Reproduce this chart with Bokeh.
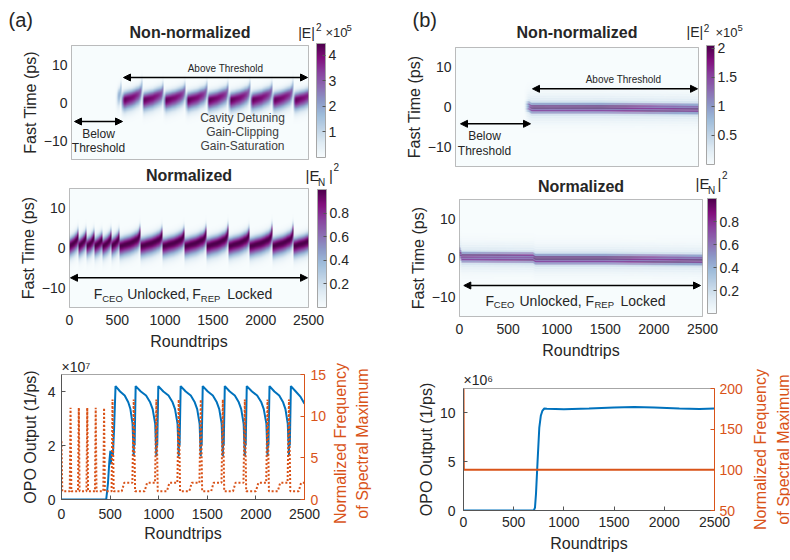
import numpy as np
from bokeh.plotting import figure
from bokeh.models import (Range1d, LinearAxis, Label, Arrow, NormalHead, ColorBar,
                          LinearColorMapper, FixedTicker)
from bokeh.layouts import column, row
from bokeh.embed import file_html
from bokeh.resources import INLINE

# ---------------------------------------------------------------- data
rt_ticks = [0, 500, 1000, 1500, 2000, 2500]
ps_ticks = [-10, 0, 10]

# (a) roundtrips at which the pulse jumps back (last edge nominal)
a_seg_edges = [0, 93, 178, 265, 352, 438, 525, 743, 976, 1206, 1433, 1660,
               1886, 2120, 2340, 2565]
# pulse centre (ps) versus fraction of a segment
seg_frac = [0.0, 0.5, 0.85, 0.95, 1.0]
seg_center_ps = [0.5, 1.3, 2.2, 3.0, 4.5]

# (a) OPO output (x1e7 1/ps)
a_out_rt = [0, 460, 478, 492, 503, 508, 514, 528, 541,
            556, 603, 650, 687, 709, 731, 737, 743, 748, 752,
            763, 816, 870, 912, 938, 964, 970, 976, 981, 985,
            996, 1048, 1101, 1143, 1168, 1194, 1200, 1206, 1211, 1215,
            1226, 1278, 1330, 1371, 1396, 1421, 1427, 1433, 1438, 1442,
            1453, 1505, 1557, 1598, 1623, 1648, 1654, 1660, 1665, 1669,
            1680, 1731, 1783, 1824, 1849, 1874, 1880, 1886, 1891, 1895,
            1906, 1960, 2013, 2056, 2081, 2108, 2114, 2120, 2125, 2129,
            2140, 2190, 2240, 2280, 2304, 2328, 2334, 2340, 2345, 2349,
            2360, 2410, 2460, 2500]
a_out = [0, 0, 0.6, 1.4, 1.8, 1.3, 1.8, 1.6, 2.6,
         4.2, 4.0, 3.85, 3.6, 3.35, 2.8, 2.2, 1.6, 2.6, 2.0,
         4.2, 4.0, 3.85, 3.6, 3.35, 2.8, 2.2, 1.6, 2.6, 2.0,
         4.2, 4.0, 3.85, 3.6, 3.35, 2.8, 2.2, 1.6, 2.6, 2.0,
         4.2, 4.0, 3.85, 3.6, 3.35, 2.8, 2.2, 1.6, 2.6, 2.0,
         4.2, 4.0, 3.85, 3.6, 3.35, 2.8, 2.2, 1.6, 2.6, 2.0,
         4.2, 4.0, 3.85, 3.6, 3.35, 2.8, 2.2, 1.6, 2.6, 2.0,
         4.2, 4.0, 3.85, 3.6, 3.35, 2.8, 2.2, 1.6, 2.6, 2.0,
         4.2, 4.0, 3.85, 3.6, 3.35, 2.8, 2.2, 1.6, 2.6, 2.0,
         4.2, 4.0, 3.8, 3.55]

# (a) normalized frequency of spectral maximum
a_freq_rt = [0, 8, 85, 93, 101, 170, 178, 186, 257, 265, 273, 344, 352, 360,
             430, 438, 446, 515, 525, 537, 620, 645, 729, 743, 757, 855, 880,
             962, 976, 990, 1085, 1110, 1192, 1206, 1220, 1315, 1340, 1419,
             1433, 1447, 1540, 1565, 1646, 1660, 1674, 1765, 1790, 1872, 1886,
             1900, 2000, 2025, 2106, 2120, 2134, 2225, 2250, 2326, 2340, 2354,
             2440, 2465, 2500]
a_freq = [7, 1, 1, 11, 1, 1, 11, 1, 1, 11, 1, 1, 11, 1,
          1, 11, 1, 1, 12, 1, 1, 2, 2, 12, 1, 1, 2,
          2, 12, 1, 1, 2, 2, 12, 1, 1, 2, 2,
          12, 1, 1, 2, 2, 12, 1, 1, 2, 2, 12,
          1, 1, 2, 2, 12, 1, 1, 2, 2, 12, 1,
          1, 2, 2]

# (b) OPO output (x1e6 1/ps)
b_out_rt = [0, 700, 712, 722, 738, 755, 770, 785, 805, 830, 1000, 1250,
            1500, 1700, 1900, 2150, 2350, 2500]
b_out = [0, 0, 0.3, 1.7, 5.1, 8.5, 9.7, 10.2, 10.45, 10.42, 10.38, 10.45,
         10.55, 10.6, 10.55, 10.45, 10.4, 10.45]
# (b) normalized frequency of spectral maximum
b_freq_rt = [0, 3, 2500]
b_freq = [200, 100, 100]
# (b) pulse centre track (ps)
b_center_rt = [0, 8, 25, 760, 780, 1500, 2500]
b_center_ps = [3.5, 1.2, 0.2, 0.1, -0.3, -0.3, -0.5]

# colour-bar limits / ticks
cb_a1_high, cb_a1_ticks = 4.45, [1, 2, 3, 4]
cb_n_high, cb_n_ticks = 1.0, [0.2, 0.4, 0.6, 0.8]
cb_b1_high, cb_b1_ticks = 2.05, [0.5, 1, 1.5, 2]

# ---------------------------------------------------------------- style
FONT = "Liberation Sans"
TXT = "#262626"
BLUE = "#0072BD"
ORANGE = "#D95319"
FRAME_GRAY = "#a6a6a6"

anchors = ["#f7fcfd", "#e0ecf4", "#bfd3e6", "#9ebcda", "#8c96c6",
           "#8c6bb1", "#88419d", "#810f7c", "#4d004b"]


def make_palette(cols, n=256):
    rgb = np.array([[int(c[i:i + 2], 16) for i in (1, 3, 5)] for c in cols], float)
    pos = np.linspace(0, 1, len(cols))
    t = np.linspace(0, 1, n)
    ch = [np.interp(t, pos, rgb[:, k]) for k in range(3)]
    return ["#%02x%02x%02x" % (int(round(ch[0][i])), int(round(ch[1][i])), int(round(ch[2][i])))
            for i in range(n)]


PAL = make_palette(anchors)


class Panel:
    """A figure placed at page rectangle `page` whose frame is page rectangle `frame`."""

    def __init__(self, page, frame, xr, yr, axes=True):
        X0, Y0, X1, Y1 = page
        fl, ft, fr, fb = frame
        self.frame, self.xr, self.yr = frame, xr, yr
        kw = {} if axes else dict(x_axis_location=None, y_axis_location=None)
        p = figure(width=X1 - X0, height=Y1 - Y0,
                   x_range=Range1d(*xr), y_range=Range1d(*yr),
                   output_backend="svg", toolbar_location=None, frame_align=False,
                   min_border_left=fl - X0, min_border_right=X1 - fr,
                   min_border_top=ft - Y0, min_border_bottom=Y1 - fb, **kw)
        p.grid.visible = False
        p.outline_line_color = FRAME_GRAY if axes else None
        p.background_fill_color = "white"
        p.border_fill_color = "white"
        self.p = p

    def dx(self, X):
        fl, ft, fr, fb = self.frame
        return self.xr[0] + (X - fl) / (fr - fl) * (self.xr[1] - self.xr[0])

    def dy(self, Y):
        fl, ft, fr, fb = self.frame
        return self.yr[1] - (Y - ft) / (fb - ft) * (self.yr[1] - self.yr[0])

    def text(self, X, Y, s, size, align="left", color=TXT, bold=False, angle=0):
        # (X, Y) is the page position of the text's left/centre baseline point;
        # the label is anchored at the middle of its line box.
        if angle == 0:
            Y = Y - 0.35 * size
        self.p.add_layout(Label(x=self.dx(X), y=self.dy(Y), text=s, text_font=FONT,
                                text_font_size=f"{size}px", text_align=align,
                                text_baseline="middle", text_color=color,
                                angle=angle, angle_units="deg",
                                text_font_style="bold" if bold else "normal"))

    def arrow(self, Xa, Xb, Y):
        y = self.dy(Y)
        self.p.add_layout(Arrow(x_start=self.dx(Xa), y_start=y, x_end=self.dx(Xb), y_end=y,
                                line_color="black", line_width=1.5,
                                start=NormalHead(size=7, fill_color="black", line_color="black", line_width=1),
                                end=NormalHead(size=7, fill_color="black", line_color="black", line_width=1)))


def strip(page):
    X0, Y0, X1, Y1 = page
    return Panel(page, page, (X0, X1), (Y1, Y0), axes=False)


def style_axis(ax, label_standoff, axis_standoff, ticks_in=0, color=TXT, line_color=None):
    ax.major_label_text_font = FONT
    ax.major_label_text_font_size = "14px"
    ax.major_label_text_color = color
    ax.axis_label_text_font = FONT
    ax.axis_label_text_font_size = "16px"
    ax.axis_label_text_font_style = "normal"
    ax.axis_label_text_color = color
    ax.minor_tick_line_color = None
    ax.major_tick_out = 0
    ax.major_tick_in = ticks_in
    ax.major_tick_line_color = line_color if ticks_in else None
    ax.axis_line_color = line_color
    ax.major_label_standoff = label_standoff
    ax.axis_label_standoff = axis_standoff


# ---------------------------------------------------------------- heat maps
NX = 500
x_cells = (np.arange(NX) + 0.5) * 2500 / NX


def t_cells(ny):
    return (np.arange(ny) + 0.5) * 30 / ny - 15


edges = np.array(a_seg_edges, float)
idx = np.clip(np.searchsorted(edges, x_cells, side="right") - 1, 0, len(edges) - 2)
frac = (x_cells - edges[idx]) / (edges[idx + 1] - edges[idx])
a_center = np.interp(frac, seg_frac, seg_center_ps)
ta = t_cells(300)
da = ta[:, None] - a_center[None, :]
shape_a = np.exp(-0.5 * (da / np.where(da > 0, 1.3, 1.9)) ** 2)
a_peak = np.interp(x_cells, a_out_rt, a_out) / max(a_out) * 4.3
img_a1 = shape_a * a_peak[None, :]
img_a2 = shape_a

tb = t_cells(600)
b_center = np.interp(x_cells, b_center_rt, b_center_ps)
db = tb[:, None] - b_center[None, :]
env_b = 0.8 * np.exp(-(np.abs(db) / 1.3) ** 4) + 0.3 * np.exp(-0.5 * (db / 2.2) ** 2)
shape_b = env_b * (0.65 + 0.35 * np.cos(2 * np.pi * db / 0.6))
shape_b = shape_b / shape_b.max(axis=0, keepdims=True)
b_peak = np.interp(x_cells, b_out_rt, b_out) / max(b_out) * 2.05
img_b1 = shape_b * b_peak[None, :]
img_b2 = shape_b


def heat(page, frame, img, high, cb_ticks, cb_loc, cb_size, xaxis):
    P = Panel(page, frame, (0, 2500), (-15, 15))
    p = P.p
    mapper = LinearColorMapper(palette=PAL, low=0, high=high)
    p.image(image=[img], x=0, y=-15, dw=2500, dh=30, color_mapper=mapper)
    ya = p.yaxis[0]
    ya.ticker = FixedTicker(ticks=ps_ticks)
    ya.axis_label = "Fast Time (ps)"
    style_axis(ya, 4, 2)
    xa = p.xaxis[0]
    if xaxis:
        xa.ticker = FixedTicker(ticks=rt_ticks)
        xa.axis_label = "Roundtrips"
        style_axis(xa, 7, 5)
    else:
        xa.visible = False
    cb = ColorBar(color_mapper=mapper, location=cb_loc, width=cb_size[0], height=cb_size[1],
                  padding=0, margin=0, ticker=FixedTicker(ticks=cb_ticks),
                  major_label_text_font=FONT, major_label_text_font_size="14px",
                  major_label_text_color=TXT, major_tick_in=3, major_tick_out=0,
                  major_tick_line_color="#555555", minor_tick_line_color=None,
                  bar_line_color=FRAME_GRAY, border_line_color=None,
                  background_fill_color=None, label_standoff=3)
    p.add_layout(cb, "center")
    return P


# ---- column (a)
HA1 = strip((0, 0, 400, 43))
HA1.text(8, 26, "(a)", 20)
HA1.text(189.5, 38, "Non-normalized", 16, "center", bold=True)
HA1.text(297.7, 37, "|E|", 14)
HA1.text(315.5, 30, "2", 10)
HA1.text(325, 37, "×10", 13)
HA1.text(346, 30.5, "5", 9.5)

A1 = heat((0, 43, 400, 162), (71, 45, 308, 159), img_a1, cb_a1_high, cb_a1_ticks,
          (245, 2), (9, 114), False)
A1.arrow(123, 307, 77)
A1.text(225, 71.5, "Above Threshold", 10, "center")
A1.arrow(74, 122, 121)
A1.text(98, 138, "Below", 12, "center")
A1.text(98, 151.5, "Threshold", 12, "center")
A1.text(242, 121.5, "Cavity Detuning", 12, "center", color="#404040")
A1.text(242, 136, "Gain-Clipping", 12, "center", color="#404040")
A1.text(242, 150, "Gain-Saturation", 12, "center", color="#404040")

HA2 = strip((0, 162, 400, 188))
HA2.text(188.5, 180.7, "Normalized", 16, "center", bold=True)
HA2.text(305, 180.7, "|E", 15)
HA2.text(317.5, 185, "N", 10)
HA2.text(328.5, 180.7, "|", 15)
HA2.text(333, 170, "2", 10)

A2 = heat((0, 188, 400, 355), (69, 188, 308, 307), img_a2, cb_n_high, cb_n_ticks,
          (248, 0), (9, 118), True)
A2.arrow(70, 307, 277.3)
A2.text(93.3, 298.3, "F", 14)
A2.text(101.7, 301.7, "CEO", 9.5)
A2.text(126.7, 298.3, "Unlocked,", 14)
A2.text(191.7, 298.3, "F", 14)
A2.text(200.3, 301.7, "REP", 9.5)
A2.text(226.7, 298.3, "Locked", 14)

# ---- column (b)
HB1 = strip((400, 0, 790, 41))
HB1.text(412, 26, "(b)", 20)
HB1.text(576.5, 37.5, "Non-normalized", 16, "center", bold=True)
HB1.text(686, 36.8, "|E|", 14)
HB1.text(703.3, 30.5, "2", 10)
HB1.text(715, 37, "×10", 13)
HB1.text(737, 30.5, "5", 9.5)

B1 = heat((400, 41, 790, 169), (455, 47, 698, 166), img_b1, cb_b1_high, cb_b1_ticks,
          (251, 2), (8, 119), False)
B1.arrow(532, 697, 88.3)
B1.text(623, 82, "Above Threshold", 10, "center")
B1.arrow(460, 530, 123.3)
B1.text(484, 140, "Below", 12, "center")
B1.text(484, 154.3, "Threshold", 12, "center")

HB2 = strip((400, 169, 790, 197))
HB2.text(580.5, 191.7, "Normalized", 16, "center", bold=True)
HB2.text(695, 188.3, "|E", 15)
HB2.text(707.5, 193.5, "N", 10)
HB2.text(717, 188.3, "|", 15)
HB2.text(721.5, 178, "2", 10)

B2 = heat((400, 197, 790, 365), (459, 199, 702, 316), img_b2, cb_n_high, cb_n_ticks,
          (248, 3), (9, 115), True)
B2.arrow(463.3, 700, 285)
B2.text(485, 305, "F", 14)
B2.text(493.3, 307.5, "CEO", 9.5)
B2.text(519, 305, "Unlocked,", 14)
B2.text(585, 305, "F", 14)
B2.text(594, 307.5, "REP", 9.5)
B2.text(620, 305, "Locked", 14)


# ---------------------------------------------------------------- line plots
def lines(page, frame, yr, yr2, lticks, rticks, out_rt, out, fr_rt, fr, dash, std,
          exp_text, exp_standoff):
    P = Panel(page, frame, (0, 2500), yr)
    p = P.p
    p.extra_y_ranges = {"f": Range1d(*yr2)}
    p.line(out_rt, out, line_color=BLUE, line_width=2)
    if dash:
        p.line(fr_rt, fr, y_range_name="f", line_color=ORANGE, line_width=2, line_dash="2 2")
    else:
        p.line(fr_rt, fr, y_range_name="f", line_color=ORANGE, line_width=2)
    xa = p.xaxis[0]
    xa.ticker = FixedTicker(ticks=rt_ticks)
    xa.axis_label = "Roundtrips"
    style_axis(xa, std[0], std[1], ticks_in=4, line_color="#555555")
    ya = p.yaxis[0]
    ya.ticker = FixedTicker(ticks=lticks)
    ya.axis_label = "OPO Output (1/ps)"
    style_axis(ya, std[2], std[3], ticks_in=4, line_color="#555555")
    ra = LinearAxis(y_range_name="f", ticker=FixedTicker(ticks=rticks))
    style_axis(ra, std[4], 0, ticks_in=4, color=ORANGE, line_color=ORANGE)
    p.add_layout(ra, "right")
    # axis exponent shown above the frame, as MATLAB does
    p.title.text = exp_text
    p.title.align = "left"
    p.title.offset = 0
    p.title.standoff = exp_standoff
    p.title.text_font = FONT
    p.title.text_font_size = "14px"
    p.title.text_font_style = "normal"
    p.title.text_color = TXT
    return P


A3 = lines((0, 355, 330, 560), (61, 374, 304, 499), (0, 4.63), (0, 15), [0, 2, 4],
           [0, 5, 10, 15], a_out_rt, a_out, a_freq_rt, a_freq, True, (9, 3, 6, 6, 6),
           "×10⁷", 0)
SA3 = strip((330, 355, 400, 560))
SA3.text(340, 443, "Normalized Frequency", 16, "center", color=ORANGE, angle=90)
SA3.text(361.5, 443, "of Spectral Maximum", 16, "center", color=ORANGE, angle=90)

B3 = lines((400, 365, 745, 560), (463, 388, 715, 510), (0, 12.5), (50, 200), [0, 5, 10],
           [50, 100, 150, 200], b_out_rt, b_out, b_freq_rt, b_freq, False, (6, 5, 8, 2, 5),
           "×10⁶", 1)
SB3 = strip((745, 365, 790, 560))
SB3.text(760, 449, "Normalized Frequency", 16, "center", color=ORANGE, angle=90)
SB3.text(782.5, 449, "of Spectral Maximum", 16, "center", color=ORANGE, angle=90)

layout = row(column(HA1.p, A1.p, HA2.p, A2.p, row(A3.p, SA3.p)),
             column(HB1.p, B1.p, HB2.p, B2.p, row(B3.p, SB3.p)))
open("out.html", "w").write(file_html(layout, INLINE))
